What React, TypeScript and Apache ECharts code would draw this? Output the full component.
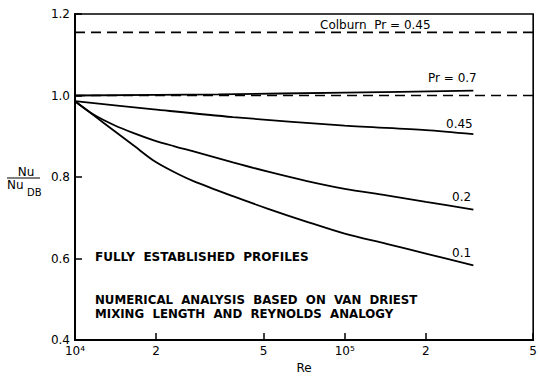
import React, { useEffect, useRef } from "react";
import * as echarts from "echarts";

const reValues = [10000, 11800, 14000, 16600, 19600, 23200, 27500, 38500, 52000, 72500, 100000, 143000, 200000, 300000];
const pr01 = [0.986, 0.95, 0.913, 0.876, 0.84, 0.813, 0.79, 0.753, 0.722, 0.69, 0.661, 0.636, 0.612, 0.583];
const pr02 = [0.986, 0.952, 0.927, 0.907, 0.89, 0.876, 0.863, 0.836, 0.813, 0.79, 0.771, 0.755, 0.739, 0.72];
const pr045Re = [10000, 19600, 38500, 100000, 200000, 300000];
const pr045 = [0.986, 0.966, 0.947, 0.926, 0.915, 0.905];
const pr07Re = [10000, 34000, 100000, 300000];
const pr07 = [1.0, 1.003, 1.007, 1.012];
const colburnRe = [10000, 500000];
const colburn = [1.155, 1.155];
const dbRe = [10000, 500000];
const db = [1.0, 1.0];
const xTicks = [10000, 20000, 50000, 100000, 200000, 500000];
const xTickLabels = ["10⁴", "2", "5", "10⁵", "2", "5"];

const font = "DejaVu Sans";

function pairs(xs: number[], ys: number[]) {
  return xs.map((x, i) => [x, ys[i]]);
}

export default function App() {
  const ref = useRef<HTMLDivElement>(null);
  useEffect(() => {
    if (!ref.current) return;
    const chart = echarts.init(ref.current, null, { renderer: "svg" });
    const solid = (name: string, xs: number[], ys: number[]) => ({
      name,
      type: "line",
      data: pairs(xs, ys),
      smooth: 0.3,
      symbol: "none",
      lineStyle: { color: "#000", width: 1.8 },
    });
    const dashed = (name: string, xs: number[], ys: number[]) => ({
      name,
      type: "line",
      data: pairs(xs, ys),
      symbol: "none",
      lineStyle: { color: "#000", width: 1.6, type: [10, 6] },
    });
    const txt = (x: number, y: number, text: string, size = 12, weight = "normal") => ({
      type: "text",
      x,
      y,
      style: { text, font: `${weight} ${size}px '${font}'`, fill: "#000", textVerticalAlign: "middle" },
    });
    chart.setOption({
      animation: false,
      backgroundColor: "#fff",
      grid: {
        left: 75,
        right: 3,
        top: 14,
        bottom: 37,
        show: true,
        borderColor: "#000",
        borderWidth: 1.6,
      },
      xAxis: {
        type: "log",
        logBase: 10,
        min: 10000,
        max: 500000,
        axisLine: { lineStyle: { color: "#000", width: 2 } },
        axisTick: {
          inside: true,
          length: 7,
          customValues: xTicks,
          lineStyle: { color: "#000", width: 1.5 },
        },
        axisLabel: {
          customValues: xTicks,
          formatter: (v: number) => {
            const i = xTicks.findIndex((t) => Math.abs(t - v) / t < 1e-6);
            return i >= 0 ? xTickLabels[i] : "";
          },
          color: "#000",
          fontFamily: font,
          fontSize: 12,
          margin: 5,
        },
        splitLine: { show: false },
        minorTick: { show: false },
        name: "Re",
        nameLocation: "middle",
        nameGap: 22,
        nameTextStyle: { color: "#000", fontFamily: font, fontSize: 12 },
      },
      yAxis: {
        type: "value",
        min: 0.4,
        max: 1.2,
        interval: 0.2,
        axisLine: { show: true, lineStyle: { color: "#000", width: 2 } },
        axisTick: { show: true, inside: true, length: 7, lineStyle: { color: "#000", width: 1.5 } },
        axisLabel: {
          formatter: (v: number) => v.toFixed(1),
          color: "#000",
          fontFamily: font,
          fontSize: 12,
          margin: 5,
        },
        splitLine: { show: false },
      },
      series: [
        dashed("Colburn Pr=0.45", colburnRe, colburn),
        dashed("Dittus-Boelter", dbRe, db),
        solid("Pr=0.7", pr07Re, pr07),
        solid("0.45", pr045Re, pr045),
        solid("0.2", reValues, pr02),
        solid("0.1", reValues, pr01),
      ],
      graphic: [
        txt(320, 25, "Colburn  Pr = 0.45"),
        txt(428, 78, "Pr = 0.7"),
        txt(446, 124, "0.45"),
        txt(452, 197, "0.2"),
        txt(452, 253, "0.1"),
        txt(95, 257, "FULLY  ESTABLISHED  PROFILES", 12, "bold"),
        txt(95, 300, "NUMERICAL  ANALYSIS  BASED  ON  VAN  DRIEST", 11.8, "bold"),
        txt(95, 314, "MIXING  LENGTH  AND  REYNOLDS  ANALOGY", 11.8, "bold"),
        { type: "text", x: 26, y: 172, style: { text: "Nu", font: `12px '${font}'`, fill: "#000", textAlign: "center", textVerticalAlign: "middle" } },
        { type: "line", shape: { x1: 7, y1: 178, x2: 40, y2: 178 }, style: { stroke: "#000", lineWidth: 1.2 } },
        txt(7, 185, "Nu"),
        txt(27, 192, "DB", 10),
      ],
    });
    return () => chart.dispose();
  }, []);
  return <div ref={ref} style={{ position: "absolute", left: 0, top: 0, width: 540, height: 379 }} />;
}
